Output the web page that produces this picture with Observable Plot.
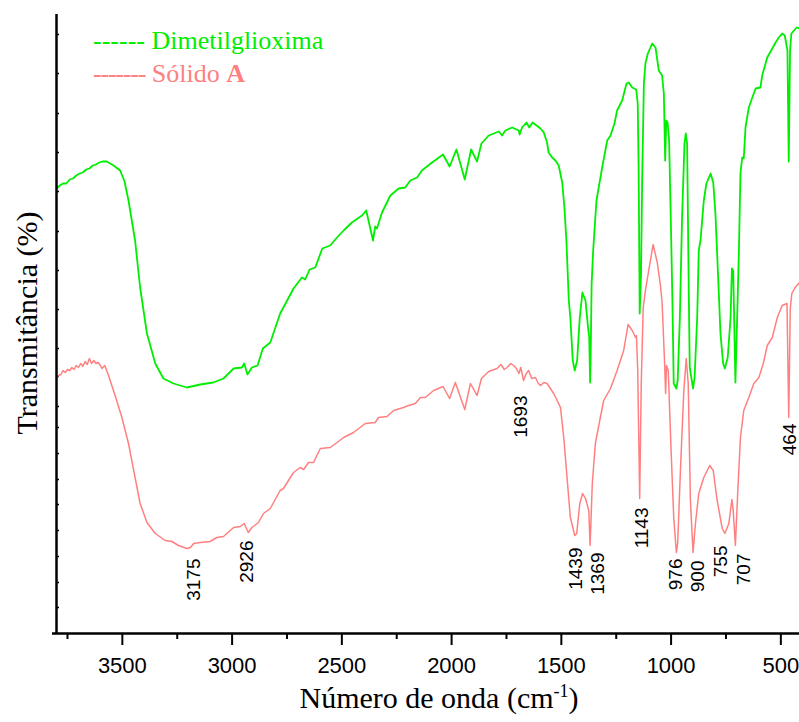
<!DOCTYPE html>
<html>
<head>
<meta charset="utf-8">
<script src="https://cdn.jsdelivr.net/npm/d3@7"></script>
<script src="https://cdn.jsdelivr.net/npm/@observablehq/plot@0.6"></script>
<style>
  body { margin: 0; background: #fff; }
  #chart { position: relative; width: 799px; height: 722px; overflow: hidden; }
  #chart svg { position: absolute; left: 0; top: 0; }
  .legend { position: absolute; left: 93px; font-family: "Liberation Serif", "Times New Roman", serif; font-size: 26px; line-height: 33px; white-space: nowrap; }
  .ytitle { position: absolute; left: 27px; top: 323px; transform: translate(-50%, -50%) rotate(-90deg);
            font-family: "Liberation Serif", "Times New Roman", serif; font-size: 30px; line-height: 30px; white-space: nowrap; color: #000; }
  .xtitle { position: absolute; left: 439px; top: 683px; transform: translateX(-50%);
            font-family: "Liberation Serif", "Times New Roman", serif; font-size: 30px; line-height: 30px; white-space: nowrap; color: #000; }
  .xtitle sup { font-size: 0.6em; line-height: 0; vertical-align: 0.6em; }
</style>
</head>
<body>
<div id="chart"></div>
<script>
// FT-IR spectra: dimethylglyoxime and solid A (transmittance, arbitrary offset units)
const dmgWavenumber = [3800,3785,3770,3755,3740,3725,3710,3695,3680,3665,3650,3635,3620,3605,3590,3571,3540,3510,3490,3472,3442,3419,3388,3350,3313,3267,3206,3145,3086,3039,2993,2955,2945,2930,2910,2884,2860,2826,2781,2720,2682,2667,2647,2621,2589,2553,2522,2492,2454,2408,2389,2358,2348,2340,2317,2279,2241,2211,2188,2157,2135,2089,2039,2009,1978,1940,1911,1884,1864,1831,1785,1770,1755,1724,1694,1690,1679,1659,1646,1631,1595,1580,1565,1558,1542,1527,1512,1496,1486,1477,1466,1459,1448,1439,1428,1416,1404,1390,1378,1373,1369,1366,1362,1355,1340,1314,1291,1276,1258,1246,1223,1203,1193,1177,1159,1152,1148,1143,1137,1132,1124,1117,1106,1086,1071,1056,1041,1033,1027,1022,1016,1009,1000,994,988,976,970,960,950,939,933,927,919,915,900,893,881,874,866,851,839,820,808,798,786,775,763,755,742,729,723,717,707,699,691,684,676,669,661,646,630,615,593,585,562,539,524,509,494,482,470,464,458,452,440,428,415];
const dmgTransmittance = [44.5,44.8,45.0,45.0,45.4,45.5,45.8,46.0,46.1,46.4,46.5,46.8,46.9,47.1,47.2,47.2,46.8,46.3,45.2,43.3,39.3,34.6,30.0,27.0,25.5,25.0,24.6,24.9,25.1,25.5,26.5,26.6,27.0,25.9,26.6,26.8,28.5,29.1,32.0,34.5,35.6,35.4,36.4,36.6,38.5,38.8,39.6,40.3,41.1,41.8,42.3,39.3,40.7,40.5,42.1,43.8,44.5,44.6,45.3,45.6,46.3,47.1,47.9,46.7,48.4,45.4,48.4,47.2,49.0,49.8,50.2,49.8,50.3,50.6,50.3,49.9,50.6,51.1,50.6,51.1,50.5,50.1,49.1,48.1,47.6,47.3,46.8,45.1,42.6,39.3,33.3,31.6,27.3,26.3,27.3,31.6,34.1,33.3,30.5,29.6,25.1,28.3,35.0,38.3,43.3,46.6,49.3,49.8,51.0,52.3,53.3,55.0,55.1,54.6,54.4,53.0,46.6,32.0,36.0,45.0,55.0,57.0,58.0,59.0,58.6,56.3,55.8,54.0,47.3,51.3,51.1,49.3,40.0,33.3,25.0,24.5,25.3,31.6,41.6,49.0,50.0,49.0,33.3,26.6,24.5,25.6,31.6,38.3,39.3,43.3,45.0,46.0,45.1,42.0,35.8,30.0,27.0,26.5,27.6,31.6,36.5,36.3,25.1,31.6,38.3,46.0,47.6,47.5,50.6,52.6,53.6,54.5,54.6,55.8,57.6,58.5,59.1,59.6,60.0,59.8,58.3,47.2,58.3,60.0,60.3,60.6,60.5];

const solidWavenumber = [3800,3790,3780,3770,3760,3750,3740,3730,3720,3710,3700,3690,3680,3670,3660,3650,3640,3630,3620,3610,3600,3593,3580,3563,3533,3502,3472,3442,3419,3388,3350,3305,3274,3244,3206,3190,3175,3145,3100,3070,3039,2993,2963,2945,2926,2910,2880,2857,2826,2781,2766,2720,2690,2674,2652,2629,2598,2553,2522,2492,2447,2393,2348,2333,2294,2264,2219,2196,2165,2142,2120,2082,2039,2009,1983,1940,1914,1884,1864,1831,1793,1775,1760,1747,1730,1717,1705,1693,1685,1672,1660,1649,1635,1618,1605,1595,1580,1565,1550,1535,1519,1504,1489,1474,1459,1439,1430,1416,1403,1390,1375,1369,1359,1345,1325,1307,1276,1246,1216,1196,1177,1162,1158,1152,1143,1136,1127,1117,1102,1082,1063,1048,1041,1030,1025,1021,1013,1000,988,976,970,957,942,931,922,912,900,889,874,851,824,808,790,767,755,737,723,717,707,696,684,669,646,623,600,580,562,539,516,494,472,464,457,450,435,415];
const solidTransmittance = [25.6,25.8,25.9,26.3,26.1,26.4,26.3,26.6,26.4,26.8,26.6,27.0,26.7,27.2,26.9,27.5,27.0,27.3,27.0,27.1,26.8,26.5,26.8,25.8,23.8,21.6,19.0,15.6,13.0,11.1,10.0,9.3,9.2,8.8,8.5,8.6,9.0,9.1,9.2,9.6,9.7,10.6,10.7,11.0,10.1,10.6,11.1,12.0,12.5,14.3,14.5,16.1,16.6,16.4,17.1,17.1,18.5,18.6,19.1,19.6,20.1,21.0,21.1,21.6,21.7,22.3,22.6,22.8,23.0,23.6,23.6,24.3,24.7,23.5,25.1,22.4,25.0,23.8,25.5,26.2,26.5,26.9,26.4,26.6,27.0,26.8,26.5,26.0,26.6,25.3,26.0,26.3,25.5,25.6,25.0,24.8,25.1,25.0,24.5,24.0,23.3,22.6,19.6,15.6,11.6,9.8,10.0,13.0,14.0,13.5,12.3,8.8,15.0,19.0,21.3,23.3,24.5,26.3,28.3,30.9,30.3,29.6,29.8,26.3,13.5,25.0,32.6,34.3,36.3,38.9,37.1,34.7,33.1,27.3,24.0,26.8,26.3,18.3,11.6,8.1,9.0,16.6,24.3,27.5,25.0,13.3,8.1,11.0,14.0,15.6,16.8,16.3,13.3,10.5,10.0,11.0,13.4,12.3,8.8,14.3,19.6,22.3,23.6,25.0,25.6,27.0,28.8,29.6,31.6,32.8,33.0,21.6,32.5,34.0,34.6,35.1];

// Bands marked on the solid A spectrum
const peakLabels = [3175, 2926, 1693, 1439, 1369, 1143, 976, 900, 755, 707, 464];

// Axis ticks
const xDomain = [3800, 415];
const yDomain = [0, 61.9];
const xMajorTicks = [3500, 3000, 2500, 2000, 1500, 1000, 500];
const xMinorTicks = [3750, 3250, 2750, 2250, 1750, 1250, 750];
const yTicks = [2.6, 5.1, 7.7, 10.3, 12.9, 15.4, 18.0, 20.6, 22.7, 25.7, 28.5, 32.4, 36.3, 40.2, 44.2, 48.1, 52.0, 56.0, 59.9];

// Styling
const dmgColor = "#00ee00";
const solidColor = "#ff8080";
// label placement relative to the band: horizontal shift and gap below the trace (px)
const labelNudge = {3175:[0,15], 2926:[-1,8], 1693:[2,22], 1439:[1,12], 1369:[8,7], 1143:[2,9], 976:[0,6], 900:[5,8], 755:[-4,12], 707:[8,8], 464:[1,6]};

const dmg = dmgWavenumber.map((w, i) => ({w, t: dmgTransmittance[i]}));
const solid = solidWavenumber.map((w, i) => ({w, t: solidTransmittance[i]}));

// transmittance of solid A at a given wavenumber (linear interpolation on the descending axis)
function solidAt(w) {
  for (let i = 0; i < solid.length - 1; i++) {
    const a = solid[i], b = solid[i + 1];
    if (w <= a.w && w >= b.w) {
      const f = a.w === b.w ? 0 : (a.w - w) / (a.w - b.w);
      return a.t + f * (b.t - a.t);
    }
  }
  return solid[solid.length - 1].t;
}

const labelMarks = peakLabels.map(w => Plot.text([w], {
  x: d => d,
  y: d => solidAt(d),
  text: d => String(d),
  rotate: -90,
  textAnchor: "end",
  fontSize: 19,
  fill: "#000",
  dx: labelNudge[w][0],
  dy: labelNudge[w][1]
}));

const chart = Plot.plot({
  width: 799,
  height: 722,
  marginLeft: 56,
  marginRight: 0,
  marginTop: 14,
  marginBottom: 89,
  style: {fontFamily: "'Liberation Sans', Arial, sans-serif", fontSize: "22px", background: "#fff", color: "#000"},
  x: {domain: xDomain, axis: null},
  y: {domain: yDomain, axis: null},
  marks: [
    Plot.axisX({ticks: xMajorTicks, tickSize: 12, tickPadding: 12, strokeWidth: 2, tickFormat: d => String(d), label: null, fontSize: 22}),
    Plot.axisX({ticks: xMinorTicks, tickSize: 6, strokeWidth: 2, tickFormat: () => "", label: null}),
    Plot.axisY({ticks: yTicks, tickSize: 3, dx: 3, strokeWidth: 1.5, tickFormat: () => "", label: null}),
    Plot.line(dmg, {x: "w", y: "t", stroke: dmgColor, strokeWidth: 1.8, clip: true}),
    Plot.line(solid, {x: "w", y: "t", stroke: solidColor, strokeWidth: 1.5, clip: true}),
    ...labelMarks,
    Plot.ruleX([xDomain[0]], {stroke: "#000", strokeWidth: 2.5}),
    Plot.ruleY([yDomain[0]], {stroke: "#000", strokeWidth: 2.5, insetLeft: -4})
  ]
});

const root = document.getElementById("chart");
root.appendChild(chart);

const legend1 = document.createElement("div");
legend1.className = "legend";
legend1.style.top = "24px";
legend1.style.color = dmgColor;
legend1.innerHTML = "------ Dimetilglioxima";
root.appendChild(legend1);

const legend2 = document.createElement("div");
legend2.className = "legend";
legend2.style.top = "57px";
legend2.style.color = solidColor;
legend2.innerHTML = "<span style=\"letter-spacing:-1.2px\">-------</span> Sólido <b>A</b>";
root.appendChild(legend2);

const ytitle = document.createElement("div");
ytitle.className = "ytitle";
ytitle.textContent = "Transmitância (%)";
root.appendChild(ytitle);

const xtitle = document.createElement("div");
xtitle.className = "xtitle";
xtitle.innerHTML = "Número de onda (cm<sup>-1</sup>)";
root.appendChild(xtitle);
</script>
</body>
</html>
